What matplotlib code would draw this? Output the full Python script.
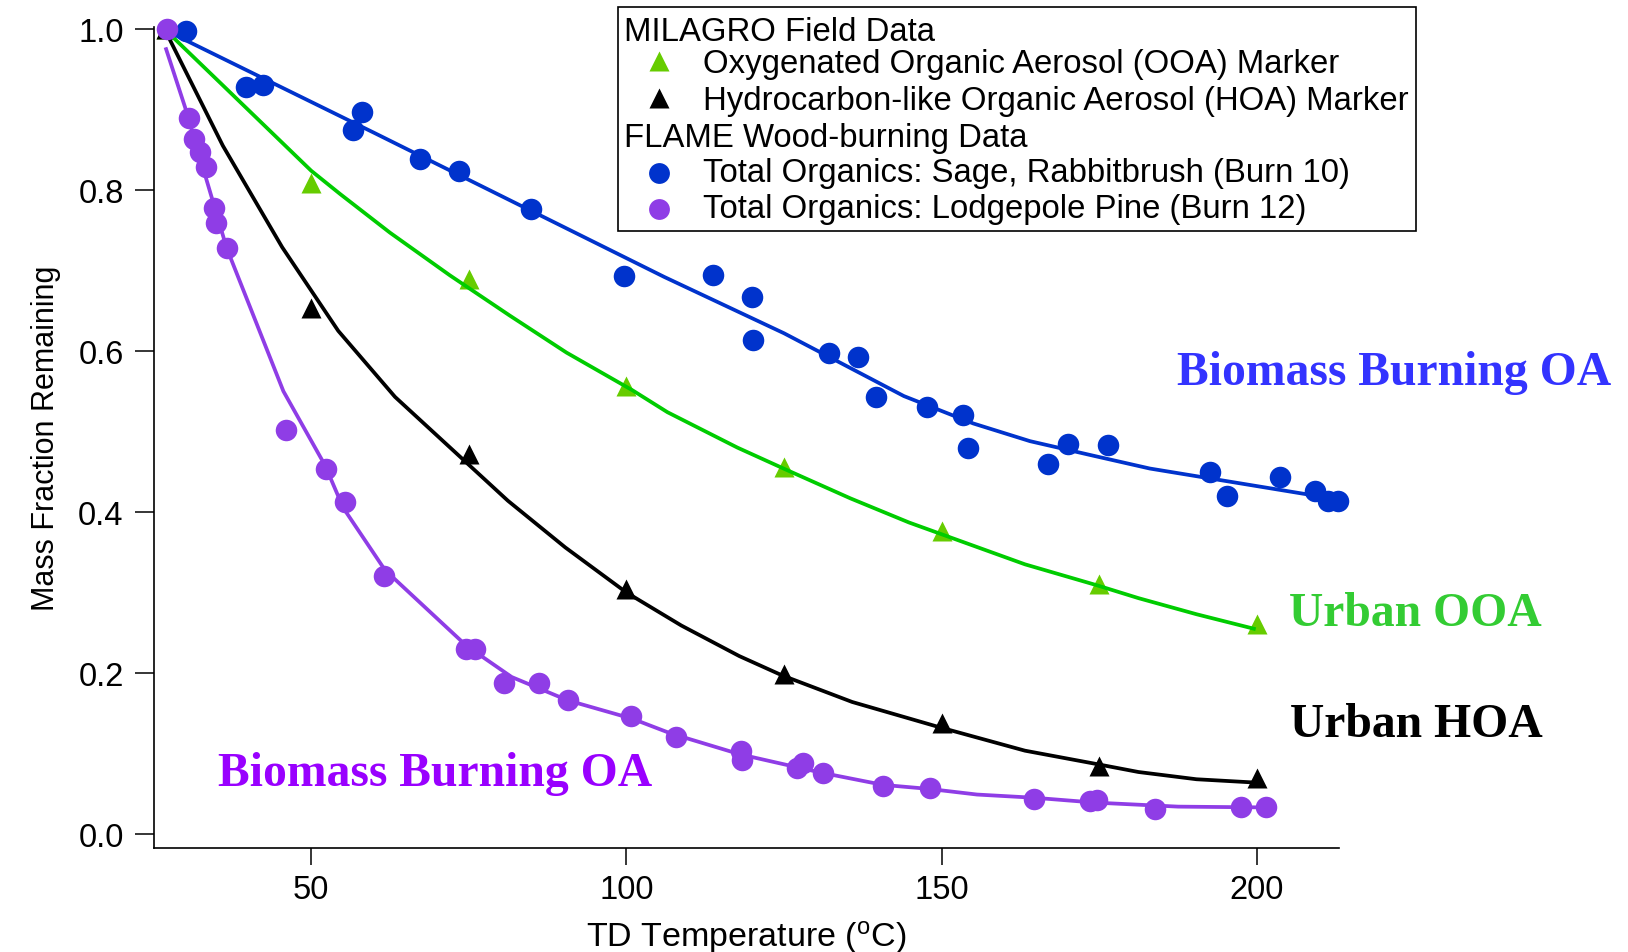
import matplotlib
matplotlib.use("Agg")
import matplotlib.pyplot as plt
from matplotlib.lines import Line2D
from matplotlib.patches import Rectangle

# ---------------- data ----------------
marker_T = [27, 50, 75, 100, 125, 150, 175, 200]
ooa_frac = [1.0, 0.809, 0.690, 0.557, 0.456, 0.376, 0.311, 0.261]
hoa_frac = [1.0, 0.653, 0.472, 0.304, 0.199, 0.138, 0.084, 0.069]

ooa_fit_T = [27, 36, 50, 54.6, 62.5, 72, 81.5, 90.5, 101, 106.5, 117.6, 125.2,
             135.5, 144.8, 163.2, 174.6, 181.2, 190.4, 199.5]
ooa_fit = [0.998, 0.930, 0.824, 0.795, 0.747, 0.694, 0.644, 0.598, 0.551, 0.524,
           0.480, 0.453, 0.417, 0.387, 0.335, 0.309, 0.293, 0.273, 0.255]

hoa_fit_T = [27, 36, 45.4, 54.3, 63.3, 81.2, 90.3, 100, 108.7, 117.9, 124.7,
             135.8, 149.7, 163.2, 174.5, 181.2, 190.4, 199.5]
hoa_fit = [0.996, 0.855, 0.729, 0.625, 0.543, 0.414, 0.356, 0.300, 0.259, 0.221,
           0.197, 0.164, 0.1325, 0.1035, 0.087, 0.077, 0.068, 0.064]

sage_T = [30.2, 39.6, 42.4, 56.6, 58.1, 67.2, 73.5, 84.9, 99.6, 113.8, 119.9,
          120.1, 132.2, 136.7, 139.5, 147.7, 153.3, 154.2, 166.9, 170.0, 176.3,
          192.5, 195.3, 203.7, 209.2, 211.2, 212.8]
sage_frac = [0.997, 0.928, 0.930, 0.875, 0.897, 0.839, 0.824, 0.776, 0.693, 0.694,
             0.667, 0.614, 0.598, 0.593, 0.543, 0.531, 0.520, 0.480, 0.460, 0.485,
             0.483, 0.450, 0.420, 0.443, 0.426, 0.414, 0.414]

sage_fit_T = [27, 60, 106, 125, 144, 155, 164, 174, 183, 197, 211]
sage_fit = [0.998, 0.871, 0.692, 0.622, 0.544, 0.510, 0.488, 0.470, 0.454, 0.436, 0.418]

pine_T = [27.1, 30.6, 31.5, 32.3, 33.3, 34.6, 34.9, 36.6, 46.0, 52.4, 55.4, 61.6,
          74.6, 76.0, 80.6, 86.2, 90.7, 100.7, 107.8, 118.1, 118.3, 127.1, 128.0,
          131.1, 140.7, 148.1, 164.7, 173.5, 174.6, 183.9, 197.5, 201.4]
pine_frac = [1.0, 0.889, 0.863, 0.847, 0.829, 0.778, 0.759, 0.728, 0.502, 0.454,
             0.412, 0.320, 0.230, 0.230, 0.188, 0.188, 0.166, 0.146, 0.120, 0.1035,
             0.092, 0.0815, 0.088, 0.076, 0.059, 0.057, 0.0435, 0.041, 0.042, 0.031,
             0.033, 0.033]

pine_fit_T = [27, 30, 36.6, 45.6, 52.2, 55.1, 61.7, 74.6, 81.8, 90.7, 101, 107,
              118, 127, 131, 140.7, 148, 155.6, 164.7, 174.3, 187.5, 201.5]
pine_fit = [0.975, 0.903, 0.728, 0.550, 0.458, 0.405, 0.328, 0.234, 0.195, 0.166,
            0.143, 0.125, 0.099, 0.083, 0.076, 0.061, 0.056, 0.049, 0.045, 0.039,
            0.034, 0.033]

x_ticks = [50, 100, 150, 200]
y_ticks = [0.0, 0.2, 0.4, 0.6, 0.8, 1.0]

legend_headers = ["MILAGRO Field Data", "FLAME Wood-burning Data"]
legend_labels = ["Oxygenated Organic Aerosol (OOA) Marker",
                 "Hydrocarbon-like Organic Aerosol (HOA) Marker",
                 "Total Organics: Sage, Rabbitbrush (Burn 10)",
                 "Total Organics: Lodgepole Pine (Burn 12)"]

# ---------------- styling ----------------
C_BLUE = "#0033cc"
C_PURPLE = "#8f3de6"
C_GREEN_M = "#66cc00"
C_GREEN_L = "#00cc00"

plt.rcParams["font.family"] = ["Liberation Sans", "DejaVu Sans"]
plt.rcParams["mathtext.default"] = "regular"

W, H, DPI = 1628, 953, 100
fig = plt.figure(figsize=(W / DPI, H / DPI), dpi=DPI)

def fx(px):
    return px / W

def fy(py):
    return 1 - py / H

ax = fig.add_axes([fx(153.5), fy(849), (1339 - 153.5) / W, (849 - 27.6) / H])
ax.set_xlim(25.0, 213.0)
ax.set_ylim(-0.0174, 1.003)

ms_tri = 15
ms_dot = 15.5
lw = 2.7

ax.plot(marker_T, ooa_frac, ls="none", marker="^", ms=ms_tri, color=C_GREEN_M,
        mec="none", clip_on=False, zorder=2)
ax.plot(marker_T, hoa_frac, ls="none", marker="^", ms=ms_tri, color="black",
        mec="none", clip_on=False, zorder=2)
ax.plot(ooa_fit_T, ooa_fit, color=C_GREEN_L, lw=lw, clip_on=False, zorder=3)
ax.plot(hoa_fit_T, hoa_fit, color="black", lw=lw, clip_on=False, zorder=3)
ax.plot(sage_fit_T, sage_fit, color=C_BLUE, lw=lw, clip_on=False, zorder=4)
ax.plot(sage_T, sage_frac, ls="none", marker="o", ms=ms_dot, color=C_BLUE,
        mec="none", clip_on=False, zorder=5)
ax.plot(pine_fit_T, pine_fit, color=C_PURPLE, lw=lw, clip_on=False, zorder=6)
ax.plot(pine_T, pine_frac, ls="none", marker="o", ms=ms_dot, color=C_PURPLE,
        mec="none", clip_on=False, zorder=7)

for s in ["top", "right"]:
    ax.spines[s].set_visible(False)
for s in ["left", "bottom"]:
    ax.spines[s].set_linewidth(1.2)

ax.set_xticks(x_ticks)
ax.set_yticks(y_ticks)
ax.set_yticklabels([f"{v:.1f}" for v in y_ticks])
ax.tick_params(axis="y", direction="out", length=13.5, width=1.1, pad=8, labelsize=23.5)
ax.tick_params(axis="x", direction="out", length=12, width=1.1, pad=7, labelsize=23.5)

ax.set_xlabel(r"TD Temperature ($^{o}$C)", fontsize=24.5, labelpad=9)
ax.set_ylabel("Mass Fraction Remaining", fontsize=22, labelpad=12)

# ---------------- annotations ----------------
serif = ["Liberation Serif", "DejaVu Serif"]
fig.text(fx(1177), fy(385), "Biomass Burning OA", color="#3333ff", fontsize=34.3,
         fontweight="bold", family=serif, ha="left", va="baseline")
fig.text(fx(218), fy(785.7), "Biomass Burning OA", color="#9900ff", fontsize=34.3,
         fontweight="bold", family=serif, ha="left", va="baseline")
fig.text(fx(1289), fy(625.7), "Urban OOA", color="#33cc33", fontsize=34.3,
         fontweight="bold", family=serif, ha="left", va="baseline")
fig.text(fx(1290), fy(737), "Urban HOA", color="black", fontsize=34.3,
         fontweight="bold", family=serif, ha="left", va="baseline")

# ---------------- legend (drawn as a box) ----------------
fig.add_artist(Rectangle((fx(617.7), fy(231.7)), (1416 - 617.7) / W, (231.7 - 8.3) / H,
                         transform=fig.transFigure, facecolor="white",
                         edgecolor="black", lw=1.2, zorder=10))
lg_fs = 23.7
fig.text(fx(624), fy(40.7), legend_headers[0], fontsize=lg_fs, ha="left",
         va="baseline", zorder=11)
fig.text(fx(624), fy(146.7), legend_headers[1], fontsize=lg_fs, ha="left",
         va="baseline", zorder=11)
entry_base = [73.3, 110, 181.7, 218.3]
entry_mk = [61.7, 99.3, 174, 210]
entry_style = [("^", C_GREEN_M), ("^", "black"), ("o", C_BLUE), ("o", C_PURPLE)]
for lab, yb, ym, (mk, col) in zip(legend_labels, entry_base, entry_mk, entry_style):
    fig.text(fx(703), fy(yb), lab, fontsize=lg_fs, ha="left", va="baseline", zorder=11)
    fig.add_artist(Line2D([fx(659)], [fy(ym)], transform=fig.transFigure, marker=mk,
                          ms=ms_tri, color=col, mec="none", ls="none", zorder=11))

fig.savefig("out.png", dpi=DPI)
